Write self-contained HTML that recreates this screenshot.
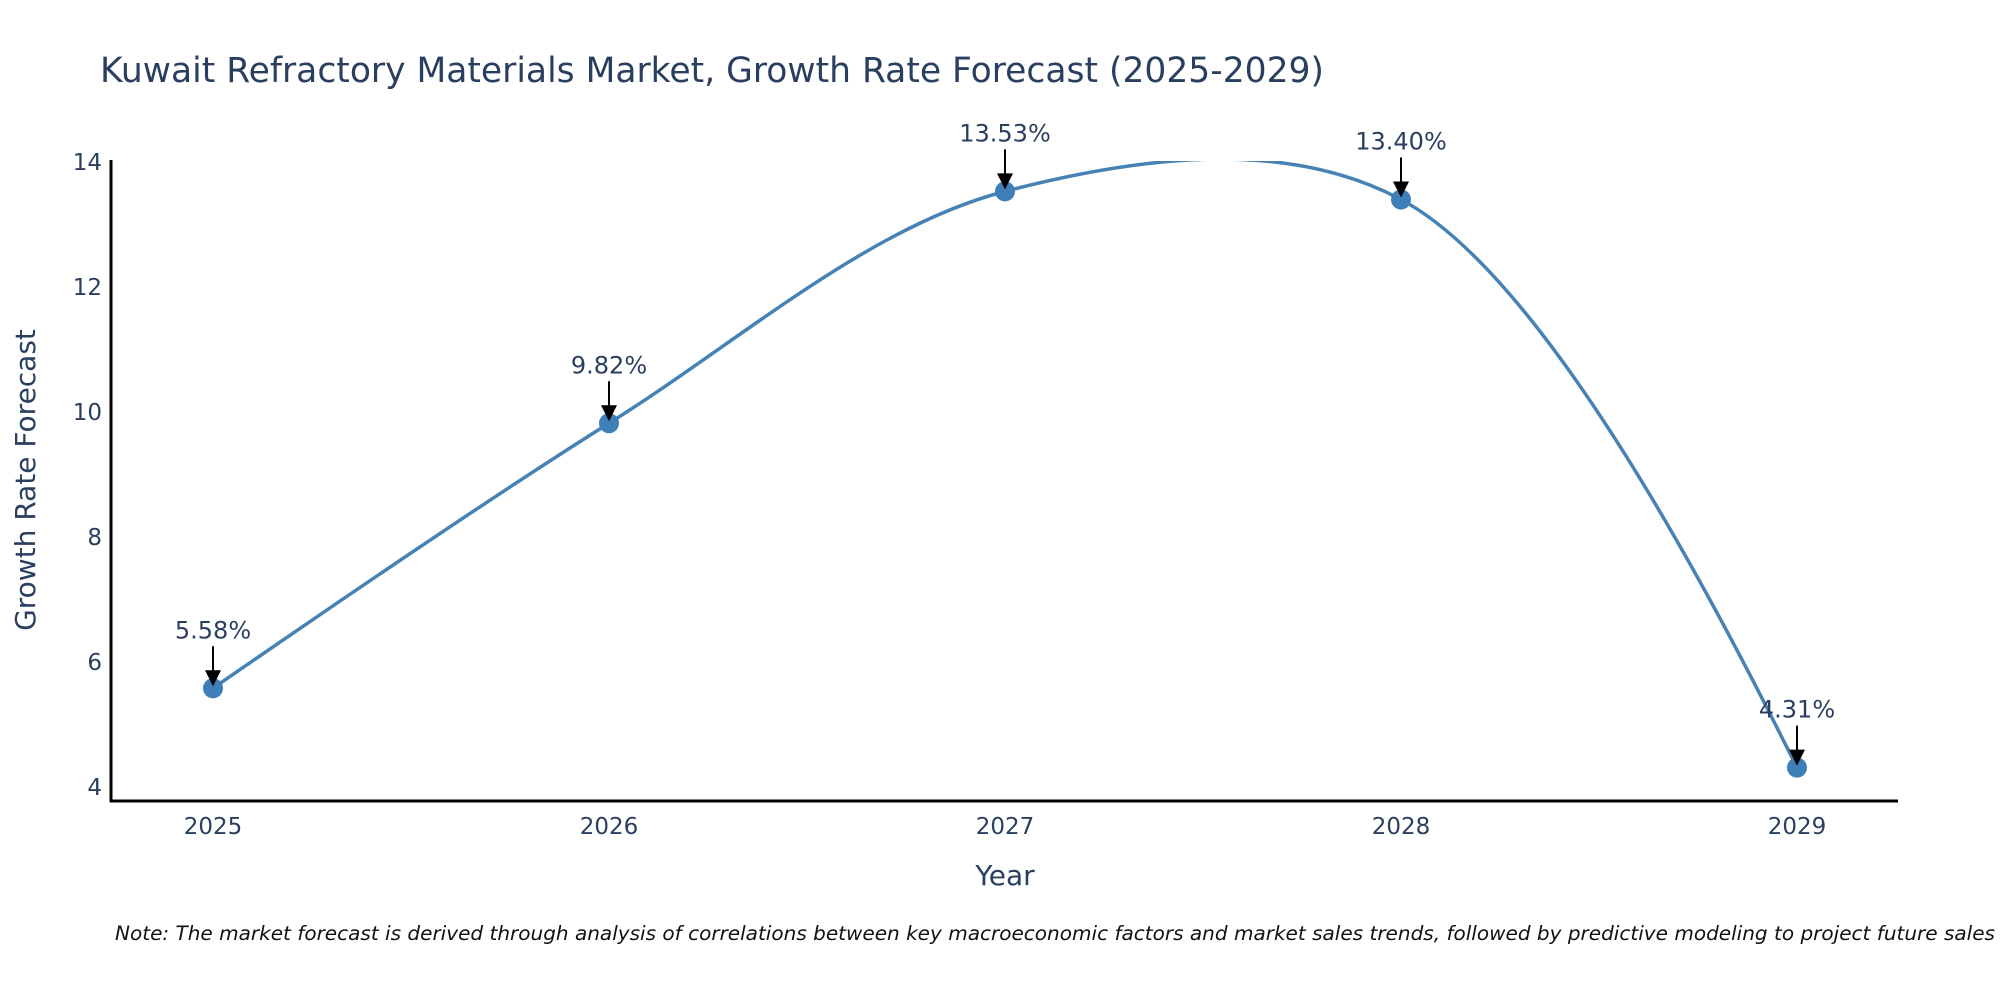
<!DOCTYPE html>
<html><head><meta charset="utf-8"><style>
body{margin:0;background:#fff;}
svg text{font-family:"DejaVu Sans","Liberation Sans",sans-serif;}
</style></head><body>
<svg id="chart" width="2000" height="1000" xmlns="http://www.w3.org/2000/svg">
<defs><clipPath id="plotclip"><rect x="111" y="161" width="1787" height="640"/></clipPath></defs>
<text x="100" y="82" font-size="34.5" fill="#2a3f5f">Kuwait Refractory Materials Market, Growth Rate Forecast (2025-2029)</text>
<g id="yticks"></g><g id="xticks"></g>
<line x1="111" y1="160" x2="111" y2="802" stroke="#000" stroke-width="3"/>
<line x1="110" y1="801" x2="1898" y2="801" stroke="#000" stroke-width="3"/>
<text transform="translate(35,480) rotate(-90)" text-anchor="middle" font-size="28" fill="#2a3f5f">Growth Rate Forecast</text>
<text x="1005" y="885" text-anchor="middle" font-size="28" fill="#2a3f5f">Year</text>
<g id="series" clip-path="url(#plotclip)"></g>
<g id="markers"></g>
<g id="annots"></g>
<text x="115" y="940" font-size="19.5" font-style="italic" fill="#111" textLength="1880" lengthAdjust="spacingAndGlyphs">Note: The market forecast is derived through analysis of correlations between key macroeconomic factors and market sales trends, followed by predictive modeling to project future sales</text>
</svg>
<script>
const years = ["2025","2026","2027","2028","2029"];
const values = [5.58, 9.82, 13.53, 13.40, 4.31];
const yTicks = [4, 6, 8, 10, 12, 14];
const NS = "http://www.w3.org/2000/svg";
function xs(i){return 213 + i*396;}
function ys(v){return 787 - (v-4)*62.5;}
function mk(tag, attrs, parent){const e=document.createElementNS(NS,tag);for(const k in attrs)e.setAttribute(k,attrs[k]);parent.appendChild(e);return e;}
const yt=document.getElementById('yticks');
yTicks.forEach(t=>{
  const e=mk('text',{x:102,y:ys(t)+8,'text-anchor':'end','font-size':23,fill:'#2a3f5f'},yt);
  
  
  e.textContent=t;
});
const xt=document.getElementById('xticks');
years.forEach((y,i)=>{
  const e=mk('text',{x:xs(i),y:834,'text-anchor':'middle','font-size':23,fill:'#2a3f5f'},xt);
  
  
  e.textContent=y;
});
const pts=values.map((v,i)=>[xs(i),ys(v)]);
function tangent(p,t,n,s){
  const d1x=p[0]-t[0],d1y=p[1]-t[1],d2x=n[0]-t[0],d2y=n[1]-t[1];
  const d1a=Math.pow(d1x*d1x+d1y*d1y,0.25),d2a=Math.pow(d2x*d2x+d2y*d2y,0.25);
  const nx=(d2a*d2a*d1x-d1a*d1a*d2x)*s,ny=(d2a*d2a*d1y-d1a*d1a*d2y)*s;
  const a=3*d2a*(d1a+d2a),b=3*d1a*(d1a+d2a);
  return [[t[0]+nx/a,t[1]+ny/a],[t[0]-nx/b,t[1]-ny/b]];
}
const tg=[];
for(let i=1;i<pts.length-1;i++)tg.push(tangent(pts[i-1],pts[i],pts[i+1],1));
let d='M'+pts[0]+'Q'+tg[0][0]+' '+pts[1];
for(let i=2;i<pts.length-1;i++)d+='C'+tg[i-2][1]+' '+tg[i-1][0]+' '+pts[i];
d+='Q'+tg[pts.length-3][1]+' '+pts[pts.length-1];
const path=mk('path',{d:d,fill:'none',stroke:'#4682b4','stroke-width':3.5},document.getElementById('series'));


const mg=document.getElementById('markers'),ag=document.getElementById('annots');
pts.forEach((p,i)=>{
  const c=mk('circle',{cx:p[0],cy:p[1],r:10,fill:'#3f7fb8'},mg);
  
  
  const l=mk('line',{x1:p[0],y1:p[1]-42,x2:p[0],y2:p[1]-14,stroke:'#000','stroke-width':2},ag);
  
  
  const h=mk('polygon',{points:`${p[0]-8},${p[1]-18} ${p[0]+8},${p[1]-18} ${p[0]},${p[1]-2}`,fill:'#000'},ag);
  
  
  const t=mk('text',{x:p[0],y:p[1]-50,'text-anchor':'middle','font-size':24,fill:'#2a3f5f'},ag);
  
  
  t.textContent=values[i].toFixed(2)+'%';
});
</script>
</body></html>
